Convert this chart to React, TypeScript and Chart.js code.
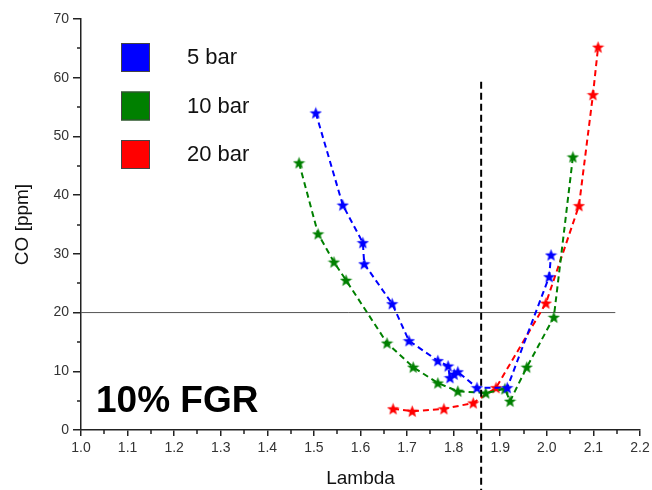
import React, { useEffect, useRef } from "react";
import { Chart, registerables } from "chart.js";

Chart.register(...registerables);

const FONT = "'Liberation Sans', Arial, sans-serif";

// 5 bar
const bar5Lambda = [1.504, 1.562, 1.605, 1.608, 1.668, 1.704, 1.766, 1.788, 1.792, 1.801, 1.809, 1.85, 1.915, 2.005, 2.009];
const bar5CO = [54.0, 38.3, 31.9, 28.3, 21.5, 15.2, 11.8, 10.9, 8.9, 9.5, 9.9, 7.2, 7.2, 26.1, 29.8];
// 10 bar
const bar10Lambda = [1.468, 1.509, 1.543, 1.569, 1.657, 1.713, 1.766, 1.809, 1.869, 1.91, 1.921, 1.957, 2.015, 2.056];
const bar10CO = [45.5, 33.4, 28.6, 25.5, 14.8, 10.7, 8.0, 6.6, 6.3, 7.0, 4.9, 10.7, 19.2, 46.5];
// 20 bar
const bar20Lambda = [1.67, 1.711, 1.779, 1.842, 1.891, 1.998, 2.069, 2.099, 2.11];
const bar20CO = [3.6, 3.2, 3.6, 4.6, 7.2, 21.6, 38.2, 57.1, 65.2];

const seriesLabels = ["5 bar", "10 bar", "20 bar"];
const seriesColors = ["#0000FF", "#008000", "#FF0000"];

// reference lines
const limitLambda = [1.0, 2.147];
const limitCO = [20, 20];
const optLambda = [1.859, 1.859];
const optCO = [59.3, -10.3];

const annotation = "10% FGR";
const xTitle = "Lambda";
const yTitle = "CO [ppm]";

function makeStar(color: string, size: number) {
  const c = document.createElement("canvas");
  c.width = size;
  c.height = size;
  const ctx = c.getContext("2d")!;
  const cx = size / 2;
  const cy = size / 2 + 0.5;
  const R = size / 2;
  const r = R * 0.42;
  ctx.beginPath();
  for (let i = 0; i < 10; i++) {
    const rad = i % 2 === 0 ? R : r;
    const a = -Math.PI / 2 + (i * Math.PI) / 5;
    const px = cx + rad * Math.cos(a);
    const py = cy + rad * Math.sin(a);
    if (i === 0) ctx.moveTo(px, py);
    else ctx.lineTo(px, py);
  }
  ctx.closePath();
  ctx.fillStyle = color;
  ctx.fill();
  return c;
}

const zip = (xs: number[], ys: number[]) => xs.map((x, i) => ({ x, y: ys[i] }));

const decorPlugin = {
  id: "decor",
  afterDraw(chart: any) {
    const ctx = chart.ctx;
    const xs = chart.scales.x;
    const ys = chart.scales.y;
    const area = chart.chartArea;
    ctx.save();
    // minor ticks
    ctx.strokeStyle = "#222";
    ctx.lineWidth = 1.5;
    ctx.beginPath();
    for (let v = 1.05; v < 2.2; v += 0.1) {
      const px = Math.round(xs.getPixelForValue(v));
      ctx.moveTo(px, area.bottom);
      ctx.lineTo(px, area.bottom + 4);
    }
    for (let v = 5; v < 70; v += 10) {
      const py = Math.round(ys.getPixelForValue(v));
      ctx.moveTo(area.left, py);
      ctx.lineTo(area.left - 4, py);
    }
    ctx.stroke();

    // legend
    const ds = chart.data.datasets;
    const top0 = 43;
    for (let i = 0; i < 3; i++) {
      const y = top0 + i * 48.5;
      ctx.fillStyle = seriesColors[i];
      ctx.fillRect(121, y, 29, 29);
      ctx.strokeStyle = "#444";
      ctx.lineWidth = 1;
      ctx.strokeRect(121.5, y + 0.5, 28, 28);
      ctx.fillStyle = "#111";
      ctx.font = `22px ${FONT}`;
      ctx.textBaseline = "middle";
      ctx.textAlign = "left";
      ctx.fillText(ds[i].label, 187, y + 15);
    }

    // annotation
    ctx.fillStyle = "#000";
    ctx.font = `bold 37px ${FONT}`;
    ctx.textBaseline = "alphabetic";
    ctx.fillText(annotation, 96, 412);
    ctx.restore();
  },
};

export default function App() {
  const ref = useRef<HTMLCanvasElement>(null);
  useEffect(() => {
    document.body.style.margin = "0";
    const stars = seriesColors.map((c) => makeStar(c, 13));
    const series = [
      zip(bar5Lambda, bar5CO),
      zip(bar10Lambda, bar10CO),
      zip(bar20Lambda, bar20CO),
    ];
    const chart = new Chart(ref.current!, {
      type: "scatter",
      data: {
        datasets: [
          ...series.map((d, i) => ({
            label: seriesLabels[i],
            data: d,
            showLine: true,
            borderColor: seriesColors[i],
            backgroundColor: seriesColors[i],
            borderWidth: 2,
            borderDash: [6, 4],
            pointStyle: stars[i] as any,
            pointRadius: 6,
            order: 1,
          })),
          {
            label: "limit",
            data: zip(limitLambda, limitCO),
            showLine: true,
            borderColor: "#555",
            borderWidth: 1,
            pointRadius: 0,
            order: 2,
          },
          {
            label: "optimum",
            data: zip(optLambda, optCO),
            showLine: true,
            borderColor: "#000",
            borderWidth: 2,
            borderDash: [7, 4],
            pointRadius: 0,
            clip: false as any,
            order: 0,
          },
        ],
      },
      options: {
        animation: false,
        responsive: false,
        layout: { padding: { top: 19, right: 12, left: 0, bottom: 0 } },
        plugins: { legend: { display: false }, tooltip: { enabled: false } },
        scales: {
          x: {
            type: "linear",
            min: 1.0,
            max: 2.2,
            afterFit(s: any) {
              s.height = 60;
              s.paddingLeft = 0;
              s.paddingRight = 0;
            },
            border: { display: true, color: "#222", width: 1.5 },
            grid: { drawOnChartArea: false, drawTicks: true, tickLength: 6, color: "#222", lineWidth: 1.5 },
            ticks: {
              stepSize: 0.1,
              padding: 4,
              color: "#333",
              font: { family: FONT, size: 14 },
              callback: (v: any) => Number(v).toFixed(1),
            },
            title: {
              display: true,
              text: xTitle,
              color: "#111",
              font: { family: FONT, size: 19 },
              padding: { top: 0, bottom: 0 },
            },
          },
          y: {
            type: "linear",
            min: 0,
            max: 70,
            afterFit(s: any) {
              s.width = 81;
              s.paddingTop = 0;
              s.paddingBottom = 0;
            },
            border: { display: true, color: "#222", width: 1.5 },
            grid: { drawOnChartArea: false, drawTicks: true, tickLength: 8, color: "#222", lineWidth: 1.5 },
            ticks: {
              stepSize: 10,
              padding: 4,
              color: "#333",
              font: { family: FONT, size: 14 },
            },
            title: {
              display: true,
              text: yTitle,
              color: "#111",
              font: { family: FONT, size: 19 },
              padding: { top: 11, bottom: 0 },
            },
          },
        },
      },
      plugins: [decorPlugin],
    });
    return () => chart.destroy();
  }, []);
  return <canvas ref={ref} width={652} height={490} style={{ display: "block" }} />;
}
